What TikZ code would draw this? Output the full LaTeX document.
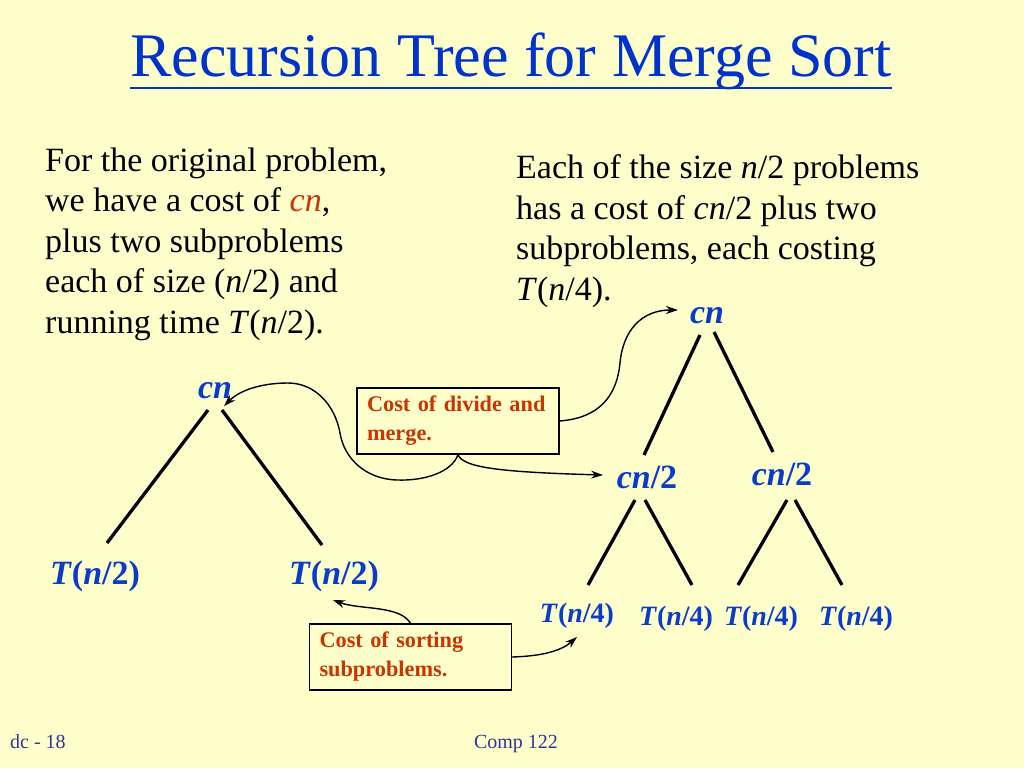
\documentclass[tikz,border=0pt]{standalone}
\usepackage{fontspec}
\setmainfont{Liberation Serif}
\usetikzlibrary{arrows.meta,calc}
\definecolor{bg}{HTML}{FFFFCC}
\definecolor{tblue}{HTML}{0033CC}
\definecolor{lblue}{HTML}{0B3BC9}
\definecolor{cred}{HTML}{CC3300}
\definecolor{fblue}{HTML}{333399}
\begin{document}
\begin{tikzpicture}[x=1pt,y=-1pt,
  body/.style={anchor=base west, align=left, inner sep=0pt, font=\fontsize{34}{40.5}\selectfont},
  lbl/.style={anchor=base, inner sep=0pt, text=lblue, font=\fontsize{34}{36}\selectfont\bfseries},
  lblsmall/.style={anchor=base, inner sep=0pt, text=lblue, font=\fontsize{28}{30}\selectfont\bfseries},
  edge/.style={line width=3.3pt},
  costbox/.style={draw, line width=1.2pt, text width=182pt, inner xsep=10pt, inner ysep=4pt,
    minimum height=66pt, align=left, text=cred, font=\fontsize{22.3}{29}\selectfont\bfseries},
  arr/.style={-{Stealth[length=12pt,width=8pt]}, line width=1.4pt},
  foot/.style={anchor=base, inner sep=0pt, text=fblue, font=\fontsize{20}{22}\selectfont}]
\fill[bg] (0,0) rectangle (1024,768);
\useasboundingbox (0,0) rectangle (1024,768);

% title
\node[anchor=base, inner sep=0pt, text=tblue, font=\fontsize{62}{64}\selectfont] (title) at (511,76) {Recursion Tree for Merge Sort};
\draw[tblue, line width=2.5pt] ($(title.base west)+(0,12)$) -- ($(title.base east)+(0,12)$);

% body texts (anchor = baseline of last line)
\node[body] (lefttext) at (45,333) {For the original problem,\\we have a cost of \textcolor{cred}{\textit{cn}},\\plus two subproblems\\each of size (\textit{n}/2) and\\running time \textit{T}(\textit{n}/2).};
\node[body] (righttext) at (516,300) {Each of the size \textit{n}/2 problems\\has a cost of \textit{cn}/2 plus two\\subproblems, each costing\\\textit{T}(\textit{n}/4).};

% left tree
\node[lbl] (a) at (215,398) {\textit{cn}};
\node[lbl] (l1) at (95,584) {\textit{T}(\textit{n}/2)};
\node[lbl] (r1) at (334,584) {\textit{T}(\textit{n}/2)};
\draw[edge] ($(a.base)+(-7,12)$) -- ($(l1.base)+(12,-41)$);
\draw[edge] ($(a.base)+(7,12)$) -- ($(r1.base)+(-12,-39)$);

% right tree
\node[lbl] (r) at (707,323) {\textit{cn}};
\node[lbl] (b1) at (647,488) {\textit{cn}/2};
\node[lbl] (b2) at (782,485) {\textit{cn}/2};
\node[lblsmall] (q1) at (577,622) {\textit{T}(\textit{n}/4)};
\node[lblsmall] (q2) at (676,625) {\textit{T}(\textit{n}/4)};
\node[lblsmall] (q3) at (761,625) {\textit{T}(\textit{n}/4)};
\node[lblsmall] (q4) at (856,625) {\textit{T}(\textit{n}/4)};
\draw[edge] ($(r.base)+(-7,12)$) -- ($(b1.base)+(-3,-33)$);
\draw[edge] ($(r.base)+(7,9)$) -- ($(b2.base)+(-9,-33)$);
\draw[edge] ($(b1.base)+(-12,12)$) -- ($(q1.base)+(11,-37)$);
\draw[edge] ($(b1.base)+(-2,12)$) -- ($(q2.base)+(16,-40)$);
\draw[edge] ($(b2.base)+(5,15)$) -- ($(q3.base)+(-23,-40)$);
\draw[edge] ($(b2.base)+(13,15)$) -- ($(q4.base)+(-14,-40)$);

% cost boxes
\node[costbox] (d) at (458,421) {Cost of divide and merge.};
\node[costbox] (s) at (410.5,657) {Cost of sorting subproblems.};

% arrows
\draw[arr] (d.south) .. controls (452,472) and (425,481) .. (397,480)
  .. controls (365,479) and (344,458) .. (340,433)
  .. controls (335,405) and (315,383) .. (288,383)
  .. controls (262,383) and (240,390) .. ($(a.base)+(9,8)$);
\draw[arr] (d.south) .. controls (463,467) and (495,472) .. ($(b1.base)+(-44,-13)$);
\draw[arr] (d.east) .. controls (600,418) and (617,395) .. (620,363)
  .. controls (623,330) and (642,310) .. ($(r.base)+(-29,-13)$);
\draw[arr] (s.north) .. controls (400,605) and (360,610) .. ($(r1.base)+(-1,16)$);
\draw[arr] (s.east) .. controls (545,656) and (562,650) .. ($(q1.base)+(0,15)$);

% footer
\node[foot, anchor=base west] (pg) at (10,748) {dc - 18};
\node[foot] (course) at (516,748) {Comp 122};
\end{tikzpicture}
\end{document}
